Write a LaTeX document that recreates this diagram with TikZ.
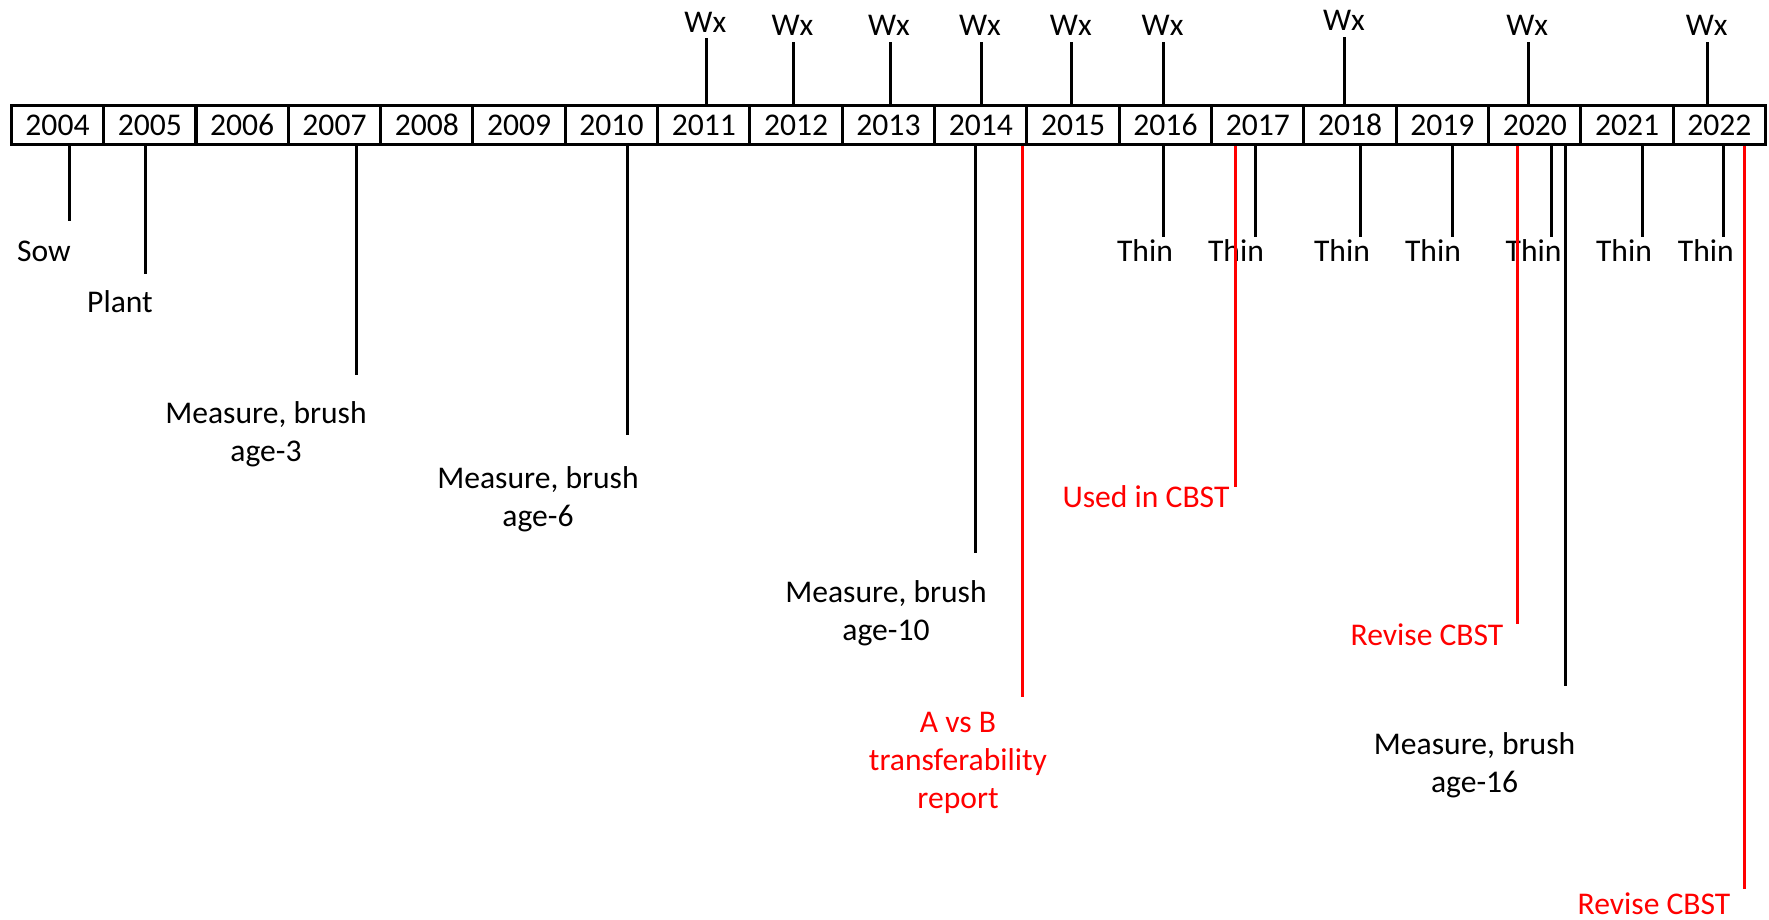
\documentclass[tikz,border=0pt]{standalone}
\usepackage{fontspec}
\setmainfont{Carlito}
\begin{document}
\begin{tikzpicture}[
    x=0.5pt, y=-0.5pt,
    every node/.style={font=\fontsize{15.8}{19}\selectfont},
    yearbox/.style={draw, line width=1.5pt, minimum width=46.17pt, minimum height=19.25pt, inner sep=0pt},
    tick/.style={line width=1.5pt},
    redtick/.style={line width=1.5pt, red},
    lbl/.style={align=center, inner sep=0pt},
    redlbl/.style={lbl, text=red}
]
    \useasboundingbox (0,0) rectangle (1769,920);

    % Year boxes
    \foreach \yr [count=\i from 0] in {2004,...,2022}
        \node[yearbox] (y\yr) at (57.5+92.33*\i,125.25) {\yr};

    % Wx above the bar
    \foreach \x/\yr/\top in {706.3/2011/38.3, 793.5/2012/41.7, 890/2013/41.7, 981/2014/41.7, 1071.8/2015/41.7, 1163.6/2016/41.7, 1344.9/2018/36.7, 1528.2/2020/41.7, 1707.7/2022/41.7} {
        \coordinate (wx\yr) at (\x,\top);
        \draw[tick] (wx\yr |- y\yr.north) -- (wx\yr);
        \node[lbl] (wxl\yr) at (\x-1,\top-16) {Wx};
    }

    % Thinning below the bar
    \foreach \x/\lx/\yr in {1163.6/1145/2016, 1255/1236/2017, 1360.2/1342/2018, 1452/1433/2019, 1551.6/1533.6/2020, 1642.6/1624/2021, 1723.8/1705.8/2022} {
        \coordinate (thin\yr) at (\x,236.7);
        \draw[tick] (thin\yr |- y\yr.south) -- (thin\yr);
        \node[lbl] (thinl\yr) at (\lx,251) {Thin};
    }

    % Black events
    \coordinate (sowend) at (69.7,221);
    \draw[tick] (sowend |- y2004.south) -- (sowend);
    \node[lbl] (sow) at (44,251) {Sow};

    \coordinate (plantend) at (145,274);
    \draw[tick] (plantend |- y2005.south) -- (plantend);
    \node[lbl] (plant) at (120,302) {Plant};

    \coordinate (age3end) at (356,375);
    \draw[tick] (age3end |- y2007.south) -- (age3end);
    \node[lbl] (age3) at (266,434) {Measure, brush\\age-3};

    \coordinate (age6end) at (627.5,435);
    \draw[tick] (age6end |- y2010.south) -- (age6end);
    \node[lbl] (age6) at (538,499) {Measure, brush\\age-6};

    \coordinate (age10end) at (975,553);
    \draw[tick] (age10end |- y2014.south) -- (age10end);
    \node[lbl] (age10) at (886,613) {Measure, brush\\age-10};

    \coordinate (age16end) at (1565,686);
    \draw[tick] (age16end |- y2020.south) -- (age16end);
    \node[lbl] (age16) at (1474.6,765.5) {Measure, brush\\age-16};

    % Red events (drawn last, over the labels)
    \node[redlbl] (avsb) at (958,763) {A vs B\\transferability\\report};
    \coordinate (avsbend) at (1022.5,697);
    \draw[redtick] (avsbend |- y2014.south) -- (avsbend);

    \node[redlbl] (used) at (1146,497) {Used in CBST};
    \coordinate (usedend) at (1235.8,487);
    \draw[redtick] (usedend |- y2017.south) -- (usedend);

    \node[redlbl] (revisea) at (1427,635) {Revise CBST};
    \coordinate (reviseaend) at (1517.5,624);
    \draw[redtick] (reviseaend |- y2020.south) -- (reviseaend);

    \node[redlbl] (reviseb) at (1654,904) {Revise CBST};
    \coordinate (revisebend) at (1744,889);
    \draw[redtick] (revisebend |- y2022.south) -- (revisebend);

\end{tikzpicture}
\end{document}
